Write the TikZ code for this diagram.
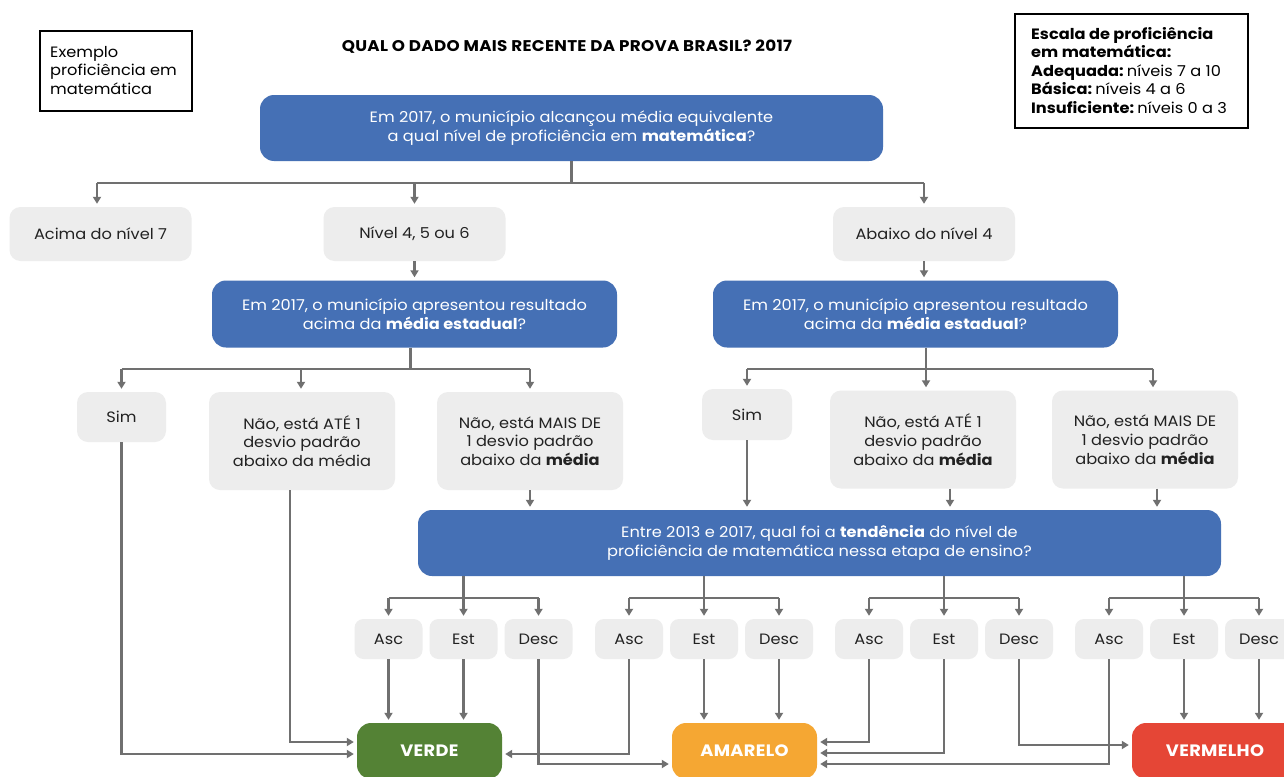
\documentclass[tikz,border=0pt]{standalone}
\usepackage{fontspec}
\setmainfont{Poppins}[FakeStretch=1.08]
\newfontfamily\headfont{Poppins}[FakeStretch=1.08, LetterSpace=2]
\usetikzlibrary{arrows.meta,calc}

\definecolor{qblue}{HTML}{4570B5}
\definecolor{qgray}{HTML}{EDEDED}
\definecolor{qline}{HTML}{707070}
\definecolor{qgreen}{HTML}{548235}
\definecolor{qorange}{HTML}{F5A733}
\definecolor{qred}{HTML}{E54636}
\definecolor{qtext}{HTML}{222222}

\newcommand{\lbl}[1]{\textbf{#1}\hspace{0.22em}}

\begin{document}
\begin{tikzpicture}[x=1pt,y=-1pt,
  every node/.style={font=\fontsize{15}{18.8}\selectfont, inner sep=0pt, align=center},
  bluebox/.style 2 args={fill=qblue, rounded corners=14pt, text=white, minimum width=#1, minimum height=#2},
  greybox/.style 2 args={fill=qgray, rounded corners=11pt, text=qtext, minimum width=#1, minimum height=#2},
  trend/.style={fill=qgray, rounded corners=9pt, text=qtext, minimum width=68pt, minimum height=40pt},
  result/.style={fill=#1, rounded corners=14pt, text=white, minimum height=56pt,
    font=\headfont\fontsize{16.5}{18}\selectfont\bfseries},
  frame/.style 2 args={draw=black, line width=1.2pt, minimum width=#1, minimum height=#2},
  conn/.style={draw=qline, line width=2.2pt},
  arr/.style={conn, -{Triangle[length=7pt,width=8pt]}, shorten >=3pt}
]
\fill[white] (0,0) rectangle (1284,776);
\useasboundingbox (0,0) rectangle (1284,776);

% header
\node[frame={152pt}{80pt}] (ex) at (116,71) {};
\node[anchor=west, align=left] (extext) at (50,70.5)
  {Exemplo\\proficiência em\\matemática};
\node[font=\headfont\fontsize{15.5}{18}\selectfont\bfseries] (title) at (567,47)
  {QUAL O DADO MAIS RECENTE DA PROVA BRASIL? 2017};
\node[frame={233pt}{114pt}] (scale) at (1131.5,71) {};
\node[anchor=west, align=left, font=\fontsize{15}{18.5}\selectfont] (scaletext) at (1031,70.5)
  {\textbf{Escala de proficiência}\\\textbf{em matemática:}\\\lbl{Adequada:}níveis 7 a 10\\\lbl{Básica:}níveis 4 a 6\\\lbl{Insuficiente:}níveis 0 a 3};

% level 1
\node[bluebox={623pt}{66pt}] (q1) at (571.5,128)
  {Em 2017, o município alcançou média equivalente\\a qual nível de proficiência em \textbf{matemática}?};
\node[greybox={182pt}{54pt}] (a1) at (100.5,234) {Acima do nível 7};
\node[greybox={182pt}{54pt}] (a2) at (414.5,234) {Nível 4, 5 ou 6};
\node[greybox={182pt}{54pt}] (a3) at (924,234) {Abaixo do nível 4};

% level 2
\node[bluebox={405pt}{67pt}] (q2L) at (414.5,314)
  {Em 2017, o município apresentou resultado\\acima da \textbf{média estadual}?};
\node[bluebox={405pt}{67pt}] (q2R) at (915.5,314)
  {Em 2017, o município apresentou resultado\\acima da \textbf{média estadual}?};

\node[greybox={89pt}{50pt}] (sL) at (121.5,417) {Sim};
\node[greybox={186pt}{98pt}] (nL1) at (302,441) {Não, está ATÉ 1\\desvio padrão\\abaixo da média};
\node[greybox={186pt}{98pt}] (nL2) at (530,441) {Não, está MAIS DE\\1 desvio padrão\\abaixo da \textbf{média}};
\node[greybox={90pt}{51pt}] (sR) at (747,414.5) {Sim};
\node[greybox={186pt}{98pt}] (nR1) at (923,439.5) {Não, está ATÉ 1\\desvio padrão\\abaixo da \textbf{média}};
\node[greybox={186pt}{98pt}] (nR2) at (1145,439.5) {Não, está MAIS DE\\1 desvio padrão\\abaixo da \textbf{média}};

% level 3
\node[bluebox={803pt}{66pt}] (q3) at (819.5,543)
  {Entre 2013 e 2017, qual foi a \textbf{tendência} do nível de\\proficiência de matemática nessa etapa de ensino?};

\foreach \i/\x in {1/388.5, 2/629, 3/869, 4/1109} {
  \node[trend] (asc\i) at (\x,639) {Asc};
  \node[trend] (est\i) at (\x+75,639) {Est};
  \node[trend] (desc\i) at (\x+150,639) {Desc};
}

% results
\node[result=qgreen, minimum width=145pt] (verde) at (429.5,751) {VERDE};
\node[result=qorange, minimum width=145pt] (amarelo) at (744.5,751) {AMARELO};
\node[result=qred, minimum width=166pt] (vermelho) at (1215,751) {VERMELHO};

% fork below the first question
\draw[conn] (q1.south) -- ++(0,22) coordinate (k1);
\draw[conn] ($(a1.north |- k1)+(-3.5,0)$) -- (a3.north |- k1);
\draw[arr] ($(a1.north |- k1)+(-3.5,0)$) -- ($(a1.north)+(-3.5,0)$);
\draw[arr] (a2.north |- k1) -- (a2.north);
\draw[arr] (a3.north |- k1) -- (a3.north);

\draw[arr] (a2.south) -- (q2L.north);
\draw[arr] (a3.south) -- (a3.south |- q2R.north);

% fork below the left state-average question
\draw[conn] ($(q2L.south)+(-4,0)$) -- ++(0,21) coordinate (k2L);
\draw[conn] (sL.north |- k2L) -- (nL2.north |- k2L);
\draw[arr] (sL.north |- k2L) -- (sL.north);
\draw[arr] ($(nL1.north |- k2L)+(-1,0)$) -- ($(nL1.north)+(-1,0)$);
\draw[arr] (nL2.north |- k2L) -- (nL2.north);

% fork below the right state-average question
\draw[conn] ($(q2R.south)+(10.5,0)$) -- ++(0,21) coordinate (k2R);
\draw[conn] (sR.north |- k2R) -- ($(nR2.north |- k2R)+(8,0)$);
\draw[arr] (sR.north |- k2R) -- (sR.north);
\draw[arr] (k2R) -- (k2R |- nR1.north);
\draw[arr] ($(nR2.north |- k2R)+(8,0)$) -- ($(nR2.north)+(8,0)$);

% into the trend question
\draw[arr] (nL2.south) -- (nL2.south |- q3.north);
\draw[arr] (sR.south) -- (sR.south |- q3.north);
\draw[arr] ($(nR1.south)+(27,0)$) -- ($(nR1.south |- q3.north)+(27,0)$);
\draw[arr] ($(nR2.south)+(12,0)$) -- ($(nR2.south |- q3.north)+(12,0)$);

% forks below the trend question
\foreach \i in {1,2,3,4} {
  \draw[conn] (est\i.north |- q3.south) -- (est\i.north |- 0,598);
  \draw[conn] (asc\i.north |- 0,598) -- (desc\i.north |- 0,598);
  \draw[arr] (asc\i.north |- 0,598) -- (asc\i.north);
  \draw[arr] (est\i.north |- 0,598) -- (est\i.north);
  \draw[arr] (desc\i.north |- 0,598) -- (desc\i.north);
}

% paths to VERDE
\draw[arr] (sL.south) |- ($(verde.west)+(0,3)$);
\draw[arr] ($(nL1.south)+(-12,0)$) |- ($(verde.west)+(0,-9)$);
\draw[arr] (asc1.south) -- (asc1.south |- verde.north);
\draw[arr] (est1.south) -- (est1.south |- verde.north);
\draw[arr] (asc2.south) |- ($(verde.east)+(0,3)$);

% paths to AMARELO
\draw[arr] (desc1.south) |- ($(amarelo.west)+(0,13)$);
\draw[arr] (est2.south) -- (est2.south |- amarelo.north);
\draw[arr] (desc2.south) -- (desc2.south |- amarelo.north);
\draw[arr] (asc3.south) |- ($(amarelo.east)+(0,-9)$);
\draw[arr] (est3.south) |- ($(amarelo.east)+(0,2)$);
\draw[arr] (asc4.south) |- ($(amarelo.east)+(0,13)$);

% paths to VERMELHO
\draw[arr] (desc3.south) |- ($(vermelho.west)+(0,-6)$);
\draw[arr] (est4.south) -- (est4.south |- vermelho.north);
\draw[arr] (desc4.south) -- (desc4.south |- vermelho.north);
\end{tikzpicture}
\end{document}
